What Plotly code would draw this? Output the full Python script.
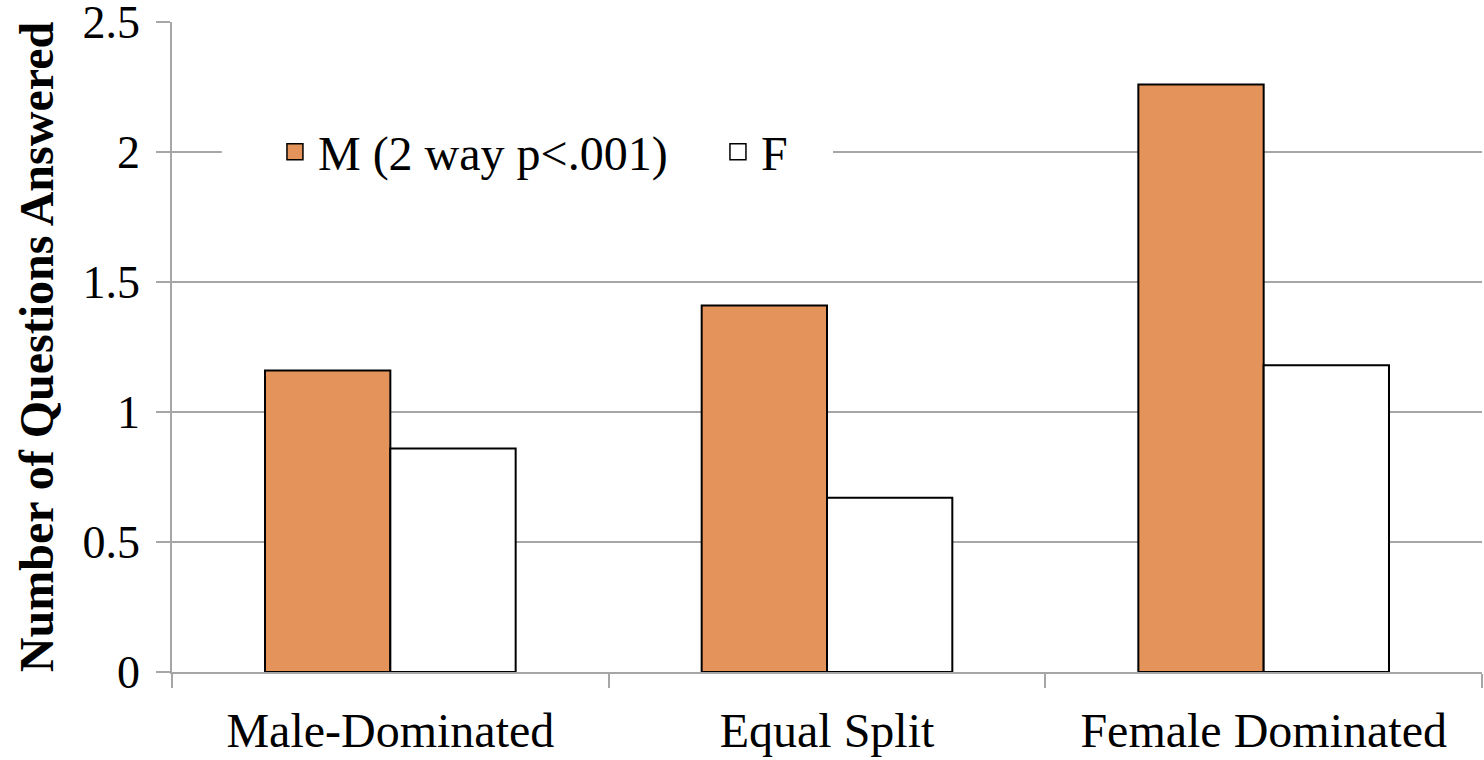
import plotly.graph_objects as go

categories = ["Male-Dominated", "Equal Split", "Female Dominated"]
male_values = [1.16, 1.41, 2.26]
female_values = [0.86, 0.67, 1.18]
series_names = ["M (2 way p<.001)", "F"]
y_ticks = [0, 0.5, 1, 1.5, 2, 2.5]
y_tick_labels = ["0", "0.5", "1", "1.5", "2", "2.5"]

FONT = "Liberation Serif, Times New Roman, serif"
GRID = "#A6A6A6"
ORANGE = "#E4945A"

fig = go.Figure()
fig.add_trace(go.Bar(
    x=categories, y=male_values, name=series_names[0], showlegend=False,
    marker=dict(color=ORANGE, line=dict(color="black", width=2)),
))
fig.add_trace(go.Bar(
    x=categories, y=female_values, name=series_names[1], showlegend=False,
    marker=dict(color="white", line=dict(color="black", width=2)),
))

# legend entries with larger square swatches
for name, color in zip(series_names, [ORANGE, "white"]):
    fig.add_trace(go.Scatter(
        x=[None], y=[None], mode="markers", name=name,
        marker=dict(symbol="square", size=22, color=color,
                    line=dict(color="black", width=1.5)),
    ))

# white panel behind the legend, hiding the gridline there
fig.add_shape(
    type="rect", xref="paper", yref="paper",
    x0=0.038, x1=0.5046, y0=0.7385, y1=0.8615,
    fillcolor="white", line=dict(width=0), layer="above",
)

fig.update_layout(
    width=1484, height=760,
    margin=dict(l=172, r=2, t=22, b=88),
    paper_bgcolor="white", plot_bgcolor="white",
    barmode="group", bargap=0.426, bargroupgap=0,
    font=dict(family=FONT, size=48, color="black"),
    showlegend=True,
    legend=dict(
        orientation="h", x=0.0763, y=0.80, xanchor="left", yanchor="middle",
        bgcolor="rgba(0,0,0,0)", font=dict(size=48, family=FONT),
        entrywidth=392, itemwidth=36,
        traceorder="normal",
    ),
    xaxis=dict(
        showline=True, linecolor=GRID, linewidth=1.5,
        ticks="outside", ticklen=14, tickcolor=GRID, tickwidth=1.5,
        tickson="boundaries", showgrid=False,
        tickfont=dict(size=48, family=FONT), ticklabelstandoff=16,
    ),
    yaxis=dict(
        range=[0, 2.5001], tickvals=y_ticks, ticktext=y_tick_labels,
        showgrid=True, gridcolor=GRID, gridwidth=1.5,
        showline=True, linecolor=GRID, linewidth=1.5,
        ticks="outside", ticklen=14, tickcolor=GRID, tickwidth=1.5,
        zeroline=False, ticklabeloverflow="allow", automargin=False,
        tickfont=dict(size=46, family=FONT), ticklabelstandoff=7,
        title=dict(text="<b>Number of Questions Answered</b>",
                   font=dict(size=48, family=FONT), standoff=14),
    ),
)

fig.write_html("out.html")
